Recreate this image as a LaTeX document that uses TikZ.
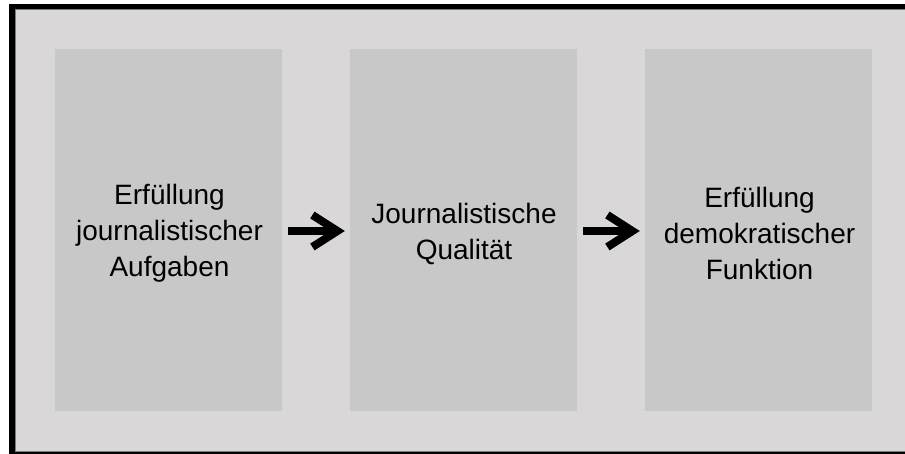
\documentclass[tikz,border=0pt]{standalone}
\usepackage{fontspec}
\setmainfont{Liberation Sans}
\usetikzlibrary{arrows.meta,calc}
\definecolor{panel}{HTML}{D9D7D8}
\definecolor{boxfill}{HTML}{C8C8C8}
\definecolor{rim}{HTML}{7A7A7A}
\begin{document}
\begin{tikzpicture}[x=1bp,y=-1bp,
  stage/.style={fill=boxfill, draw=none, minimum width=227bp, minimum height=362bp,
    inner sep=0pt},
  label/.style={align=center, font=\fontsize{28bp}{36bp}\selectfont, text=black,
    inner sep=0pt},
  flow/.style={line width=8bp, shorten <=6bp, shorten >=5bp,
    -{Straight Barb[length=25bp, width=32bp, line width=0pt 1]}}]
  \useasboundingbox (0,0) rectangle (905,454);
  \fill[white] (0,0) rectangle (905,454);
  % frame
  \fill[black] (9,4) rectangle (905,454);
  \fill[rim] (14.5,9.5) rectangle (905,451.5);
  \fill[panel] (15.5,10.5) rectangle (905,450.5);
  % stages
  \node[stage] (b1) at (168.5,230) {};
  \node[stage] (b2) at (463.5,230) {};
  \node[stage] (b3) at (758.5,230) {};
  \node[label, xshift=1bp, yshift=-3bp] (t1) at (b1.center) {Erfüllung\\journalistischer\\Aufgaben};
  \node[label, xshift=0.5bp, yshift=-4bp] (t2) at (b2.center) {Journalistische\\Qualität};
  \node[label, xshift=1bp, yshift=-3bp] (t3) at (b3.center) {Erfüllung\\demokratischer\\Funktion};
  % arrows between stages
  \draw[flow] ($(b1.east)+(0,1)$) -- ($(b2.west)+(0,1)$);
  \draw[flow] ($(b2.east)+(0,1)$) -- ($(b3.west)+(0,1)$);
\end{tikzpicture}
\end{document}
